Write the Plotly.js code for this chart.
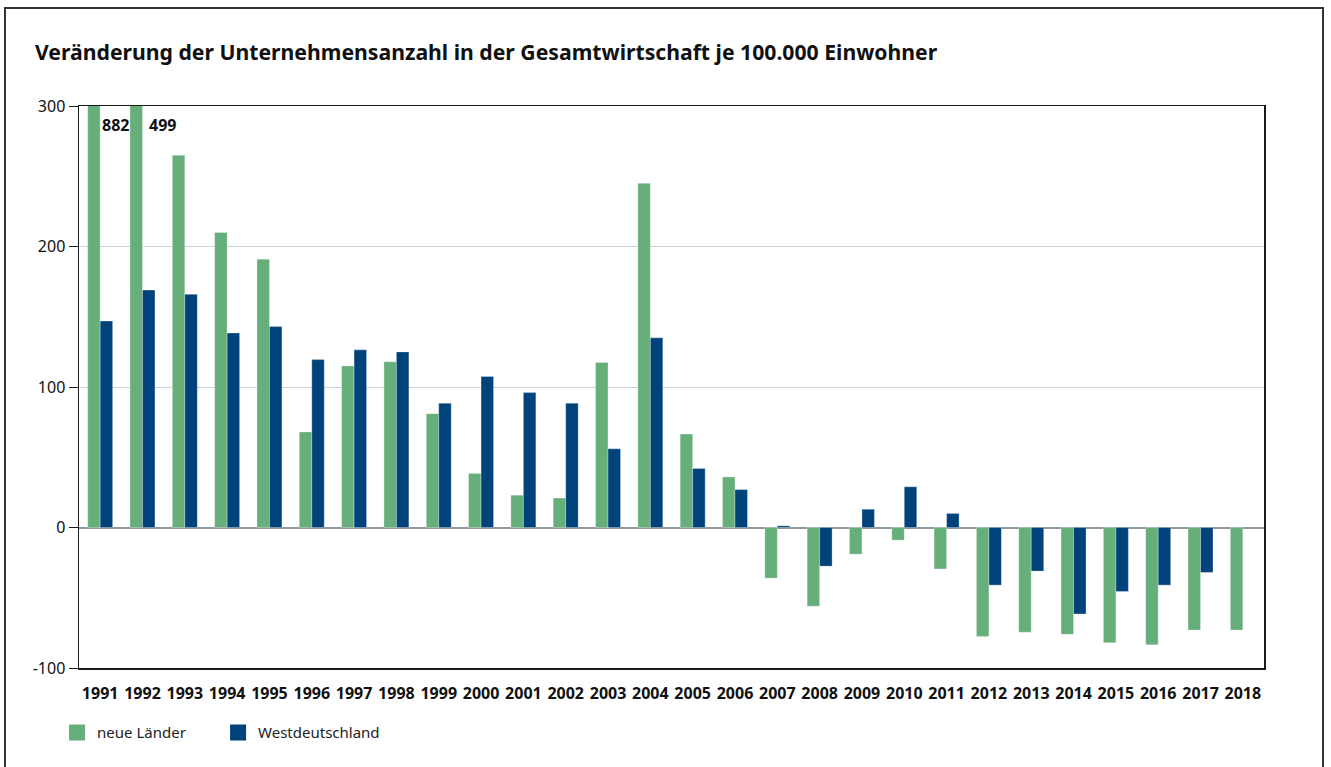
<!DOCTYPE html>
<html>
<head>
<meta charset="utf-8">
<script src="https://cdn.plot.ly/plotly-3.0.1.min.js"></script>
<style>
  html, body { margin: 0; padding: 0; background: #fff; }
  #chart { width: 1331px; height: 767px; }
  #frame { position: absolute; left: 4px; top: 7px; width: 1320px; height: 780px;
           border: 2px solid #333; pointer-events: none; box-sizing: border-box; }
</style>
</head>
<body>
<div id="chart"></div>
<div id="frame"></div>
<script>
const years = ["1991","1992","1993","1994","1995","1996","1997","1998","1999","2000",
               "2001","2002","2003","2004","2005","2006","2007","2008","2009","2010",
               "2011","2012","2013","2014","2015","2016","2017","2018"];
const neueLaender = [882, 499, 265, 210, 191, 68, 115, 118, 81, 38.5,
                     23, 21, 117.5, 245, 66.5, 36, -36, -56, -19, -9,
                     -29.5, -77.5, -74.5, -76, -82, -83.5, -73, -73];
const westdeutschland = [147, 169, 166, 138.5, 143, 119.5, 126.5, 125, 88.5, 107.5,
                         96, 88.5, 56, 135, 42, 27, 1.2, -27.5, 13, 29,
                         10, -41, -31, -61.5, -45.5, -41, -32, null];
const seriesNames = ["neue Länder", "Westdeutschland"];
const colors = ["#66ae7a", "#00437a"];
const clippedLabels = ["882", "499"];
const yTickVals = [-100, 0, 100, 200, 300];
const yTickText = ["-100", "0", "100", "200", "300"];

const font = "Noto Sans, sans-serif";

const traces = [
  { type: "bar", x: years, y: neueLaender, name: seriesNames[0],
    marker: { color: colors[0], line: { color: "rgba(255,255,255,0.5)", width: 0.6 } },
    showlegend: false, hoverinfo: "x+y" },
  { type: "bar", x: years, y: westdeutschland, name: seriesNames[1],
    marker: { color: colors[1], line: { color: "rgba(255,255,255,0.5)", width: 0.6 } },
    showlegend: false, hoverinfo: "x+y" },
  { type: "scatter", mode: "markers", x: [years[0]], y: [null], name: seriesNames[0],
    marker: { symbol: "square", size: 16, color: colors[0] }, showlegend: true },
  { type: "scatter", mode: "markers", x: [years[0]], y: [null], name: seriesNames[1],
    marker: { symbol: "square", size: 16, color: colors[1] }, showlegend: true }
];

// category axis: annotation x is the category's serial index
const annotations = clippedLabels.map((t, i) => ({
  x: i, y: 300, xref: "x", yref: "y", text: "<b>" + t + "</b>",
  showarrow: false, xanchor: "left", yanchor: "top",
  xshift: i === 0 ? 0 : 5, yshift: -6,
  font: { family: font, size: 16, color: "#111" }
}));

const layout = {
  width: 1331, height: 767,
  margin: { l: 79, r: 67, t: 106, b: 99 },
  paper_bgcolor: "#fff", plot_bgcolor: "#fff",
  title: {
    text: "<b>Veränderung der Unternehmensanzahl in der Gesamtwirtschaft je 100.000 Einwohner</b>",
    x: 35 / 1331, xanchor: "left", xref: "container",
    y: 1 - 53 / 767, yanchor: "middle", yref: "container",
    font: { family: font, size: 21.2, color: "#111" }
  },
  barmode: "group", bargap: 0.41, bargroupgap: 0,
  xaxis: {
    type: "category", categoryorder: "array", categoryarray: years,
    range: [-0.5, years.length - 0.5], autorange: false,
    showgrid: false, zeroline: false,
    showline: true, linecolor: "#1a1a1a", linewidth: 1.5, mirror: true,
    ticks: "", ticklabelstandoff: 10,
    tickfont: { family: font, size: 16, color: "#111", weight: "bold" },
    fixedrange: true
  },
  yaxis: {
    range: [-100, 300], autorange: false,
    tickmode: "array", tickvals: yTickVals, ticktext: yTickText,
    showgrid: true, gridcolor: "#c8d3d9", gridwidth: 1,
    zeroline: true, zerolinecolor: "#8f989c", zerolinewidth: 2,
    showline: true, linecolor: "#1a1a1a", linewidth: 1.5, mirror: true,
    ticks: "outside", ticklen: 9, tickcolor: "#1a1a1a", tickwidth: 1,
    tickfont: { family: font, size: 16, color: "#111" },
    fixedrange: true
  },
  legend: {
    orientation: "h", x: -0.0185, xanchor: "left", y: -0.086, yanchor: "top",
    font: { family: font, size: 15, color: "#222" },
    entrywidth: 116, itemclick: false, itemdoubleclick: false
  },
  annotations: annotations,
  showlegend: true
};

Plotly.newPlot("chart", traces, layout, { displayModeBar: false, staticPlot: true });
</script>
</body>
</html>
